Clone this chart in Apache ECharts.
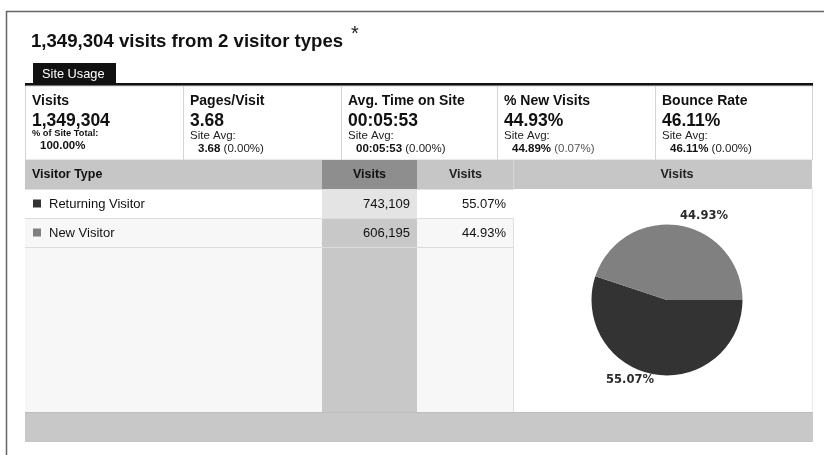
<!DOCTYPE html>
<html>
<head>
<meta charset="utf-8">
<script src="https://cdn.jsdelivr.net/npm/echarts@6/dist/echarts.min.js"></script>
<style>
html,body{margin:0;padding:0;background:#fff;}
#chart{width:824px;height:455px;}
</style>
</head>
<body>
<div id="chart"></div>
<script>
// ---- data ----
const titleText = '1,349,304 visits from 2 visitor types';
const tabLabel = 'Site Usage';
const metricNames = ['Visits', 'Pages/Visit', 'Avg. Time on Site', '% New Visits', 'Bounce Rate'];
const metricValues = ['1,349,304', '3.68', '00:05:53', '44.93%', '46.11%'];
const metricSubLabels = ['% of Site Total:', 'Site Avg:', 'Site Avg:', 'Site Avg:', 'Site Avg:'];
const metricAvgs = ['100.00%', '3.68', '00:05:53', '44.89%', '46.11%'];
const metricDiffs = ['', '(0.00%)', '(0.00%)', '(0.07%)', '(0.00%)'];
const tableHeaders = ['Visitor Type', 'Visits', 'Visits', 'Visits'];
const visitorTypes = ['Returning Visitor', 'New Visitor'];
const visits = [743109, 606195];
const visitShares = ['55.07%', '44.93%'];
const sliceColors = ['#333333', '#808080'];

// ---- drawing ----
const FONT = "'Liberation Sans', Arial, sans-serif";
const els = [];
function rect(x, y, w, h, fill, stroke, lw) {
  els.push({type: 'rect', shape: {x: x, y: y, width: w, height: h}, silent: true,
    style: {fill: fill || 'none', stroke: stroke || null, lineWidth: lw || 1}});
}
function line(x1, y1, x2, y2, stroke, lw) {
  els.push({type: 'line', shape: {x1: x1, y1: y1, x2: x2, y2: y2}, silent: true,
    style: {stroke: stroke, lineWidth: lw || 1}});
}
function text(x, y, str, font, fill, align, rich) {
  const st = {text: str, font: font, fill: fill || '#111', textAlign: align || 'left', textVerticalAlign: 'middle'};
  if (rich) st.rich = rich;
  els.push({type: 'text', x: x, y: y, silent: true, style: st});
}

// outer frame
line(6.5, 11, 6.5, 455, '#666', 1.5);
line(6, 11.5, 824, 11.5, '#666', 1.5);

// title
text(31, 42, titleText, 'bold 18.6px ' + FONT, '#111');
text(351, 34, '*', 'normal 20px ' + FONT, '#222');

// tab
rect(33, 63, 83, 21, '#111');
text(42, 74.5, tabLabel, 'normal 12.8px ' + FONT, '#fff');
rect(25, 83, 788, 3, '#111');

// metrics panel
const colX = [25, 183, 341, 497, 655, 812];
rect(25.5, 86, 787, 74, '#fff', '#d4d4d4', 1);
for (let i = 1; i < 5; i++) line(colX[i] + 0.5, 86, colX[i] + 0.5, 160, '#d4d4d4', 1);
for (let i = 0; i < 5; i++) {
  const x = colX[i] + 7;
  text(x, 101, metricNames[i], 'bold 14px ' + FONT, '#111');
  text(x, 121, metricValues[i], 'bold 17.5px ' + FONT, '#111');
  if (i === 0) {
    text(x, 133.5, metricSubLabels[i], 'bold 9.3px ' + FONT, '#111');
    text(x + 8, 145.5, metricAvgs[i], 'bold 11.5px ' + FONT, '#111');
  } else {
    text(x, 135.5, metricSubLabels[i], 'normal 11.5px ' + FONT, '#222');
    text(x + 8, 149, '{b|' + metricAvgs[i] + '} {n|' + metricDiffs[i] + '}', 'normal 11.5px ' + FONT, '#222', 'left', {
      b: {font: 'bold 11.5px ' + FONT, fill: '#111', color: '#111'},
      n: {font: 'normal 11.5px ' + FONT, fill: i === 3 ? '#555' : '#222', color: i === 3 ? '#555' : '#222'}
    });
  }
}

// table
const tTop = 160, hH = 29, rowH = 29, tBottom = 412;
const cLeft = 25, cVis = 322, cPct = 417, cPie = 514, cRight = 812;
// header
rect(cLeft, tTop, cRight - cLeft, hH, '#c6c6c6');
rect(cVis, tTop, cPct - cVis, hH, '#8e8e8e');
line(cPie - 0.5, tTop, cPie - 0.5, tTop + hH, '#d8d8d8', 1);
text(32, tTop + 15, tableHeaders[0], 'bold 12.5px ' + FONT, '#111');
text((cVis + cPct) / 2, tTop + 15, tableHeaders[1], 'bold 12.5px ' + FONT, '#111', 'center');
text((cPct + cPie) / 2, tTop + 15, tableHeaders[2], 'bold 12.5px ' + FONT, '#222', 'center');
text((cPie + cRight) / 2 + 14, tTop + 15, tableHeaders[3], 'bold 12.5px ' + FONT, '#222', 'center');
// body background
const bTop = tTop + hH;
rect(cLeft, bTop, cPie - cLeft, tBottom - bTop, '#f7f7f7');
rect(cVis, bTop, cPct - cVis, tBottom - bTop, '#c8c8c8');
rect(cPie, bTop, cRight - cPie, tBottom - bTop, '#fff');
line(cPie - 0.5, bTop, cPie - 0.5, tBottom, '#e0e0e0', 1);
line(cRight + 0.5, bTop, cRight + 0.5, tBottom, '#e8e8e8', 1);
// rows
const nf = new Intl.NumberFormat('en-US');
visitorTypes.forEach(function (name, i) {
  const y = bTop + i * rowH;
  if (i === 0) {
    rect(cLeft, y, cVis - cLeft, rowH, '#fff');
    rect(cVis, y, cPct - cVis, rowH, '#e4e4e4');
    rect(cPct, y, cPie - cPct, rowH, '#fff');
  }
  line(cLeft, y + rowH + 0.5, cPie, y + rowH + 0.5, '#dcdcdc', 1);
  rect(33, y + rowH / 2 - 4, 8, 8, sliceColors[i]);
  text(49, y + rowH / 2 + 1, name, 'normal 13px ' + FONT, '#111');
  text(410, y + rowH / 2 + 1, nf.format(visits[i]), 'normal 13px ' + FONT, '#111', 'right');
  text(506, y + rowH / 2 + 1, visitShares[i], 'normal 13px ' + FONT, '#111', 'right');
});
line(cLeft, bTop + 0.5, cPie, bTop + 0.5, '#e0e0e0', 1);
// footer bar
rect(cLeft, tBottom, cRight - cLeft + 1, 30, '#c8c8c8');
line(cLeft, tBottom + 0.5, cRight + 1, tBottom + 0.5, '#bdbdbd', 1);

const chart = echarts.init(document.getElementById('chart'), null, {renderer: 'canvas'});
chart.setOption({
  animation: false,
  backgroundColor: '#fff',
  graphic: {elements: els},
  series: [{
    type: 'pie',
    z: 10,
    center: [667, 300],
    radius: 75.5,
    startAngle: 0,
    clockwise: true,
    avoidLabelOverlap: false,
    silent: true,
    data: visitorTypes.map(function (n, i) {
      return {name: n, value: visits[i], itemStyle: {color: sliceColors[i]}};
    }),
    itemStyle: {borderWidth: 0},
    label: {
      show: true,
      position: 'outside',
      formatter: function (p) { return visitShares[p.dataIndex]; },
      fontFamily: "'DejaVu Sans', sans-serif",
      fontWeight: 'bold',
      fontSize: 11.5,
      color: '#2a2a2a',
      distanceToLabelLine: 0
    },
    labelLine: {show: false, length: 7, length2: 0},
    labelLayout: function (p) {
      return p.dataIndex === 1 ? {dy: -3} : {dy: -1};
    }
  }]
});
</script>
</body>
</html>
